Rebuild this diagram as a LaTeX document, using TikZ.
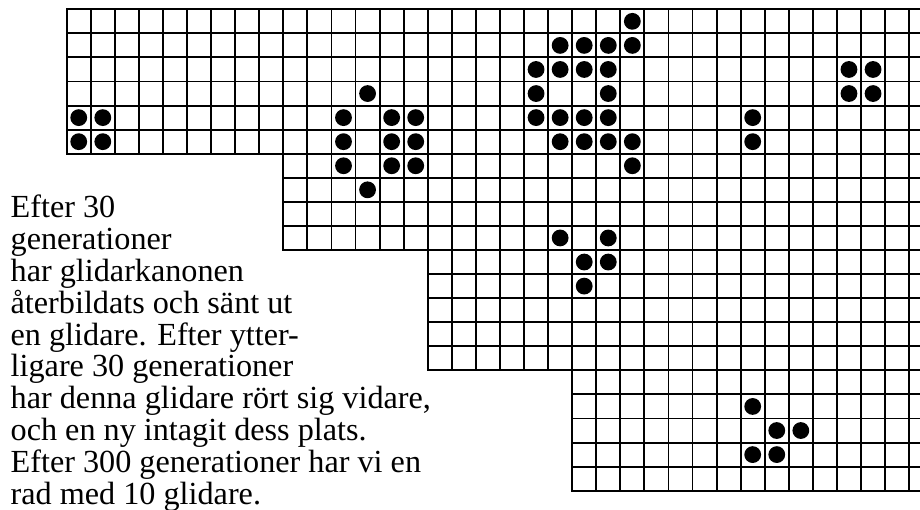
\documentclass[tikz,border=0pt]{standalone}
\usepackage{fontspec}
\setmainfont{Liberation Serif}
\definecolor{ink}{HTML}{000000}
\definecolor{paper}{HTML}{FFFFFF}

\begin{document}
\begin{tikzpicture}[x=1pt,y=-1pt,line cap=rect,line join=miter,
  gridline/.style={line width=1.9pt,ink},
  cell/.style={ink},
  note/.style={font=\fontsize{32.2}{32}\selectfont,text=ink,anchor=base west,inner sep=0pt}]
  \fill[paper] (0,0) rectangle (920,510);
  \useasboundingbox (0,0) rectangle (920,510);

  % ---- board: four blocks of cells, stepping down to the right ----
  \begin{scope}[shift={(66.7,9.3)},x=24.07pt,y=-24.07pt]
    \clip (-1,-1) rectangle (35.45,21);
    \foreach \c/\r/\h in {0/0/6, 9/6/4, 15/10/5, 21/15/5}{
      \foreach \i in {0,...,\h}{\draw[gridline] (\c,\r+\i) -- (36,\r+\i);}
      \foreach \j in {\c,...,35}{\draw[gridline] (\j,\r) -- (\j,\r+\h);}
    }

    % ---- live cells (column/row) ----
    \foreach \c/\r in {0/4,1/4,0/5,1/5,                       % block left
      12/3,11/4,13/4,14/4,11/5,13/5,14/5,11/6,13/6,14/6,12/7, % left half of gun
      23/0,20/1,21/1,22/1,23/1,19/2,20/2,21/2,22/2,19/3,22/3,
      19/4,20/4,21/4,22/4,20/5,21/5,22/5,23/5,23/6,           % right half of gun
      28/4,28/5,32/2,33/2,32/3,33/3,                          % block right
      20/9,22/9,21/10,22/10,21/11,                            % first glider
      28/16,29/17,30/17,28/18,29/18}{                         % second glider
      \fill[cell] (\c+0.5,\r+0.5) circle[radius=8.4pt];
    }
  \end{scope}

  % ---- caption text, one node per line ----
  \foreach \txt [count=\i] in {Efter 30, generationer, har glidarkanonen,
      återbildats och sänt ut, en glidare. Efter ytter-, ligare 30 generationer,
      {har denna glidare rört sig vidare,}, och en ny intagit dess plats.,
      Efter 300 generationer har vi en, rad med 10 glidare.}{
    \node[note] (line\i) at (10.5,{217.8+31.8*(\i-1)}) {\txt};
  }
\end{tikzpicture}
\end{document}
